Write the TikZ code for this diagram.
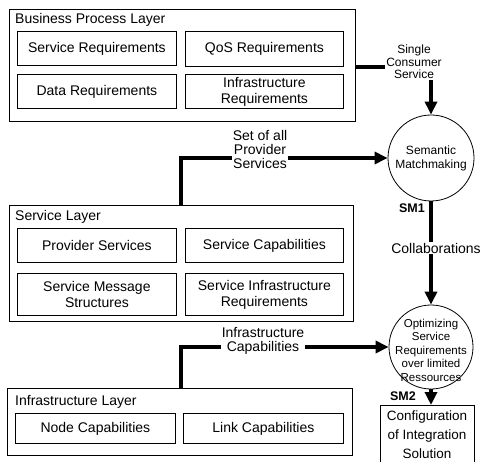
\documentclass[tikz,border=0pt]{standalone}
\usepackage{fontspec}
\setmainfont{Liberation Sans}
\usetikzlibrary{arrows.meta}
\begin{document}
\begin{tikzpicture}[x=1pt,y=-1pt,
  layerbox/.style={draw, line width=0.8pt, anchor=north west, inner sep=0pt},
  item/.style={draw, line width=0.8pt, anchor=north west, inner sep=0pt, align=center,
    font=\fontsize{14}{16}\selectfont},
  title/.style={anchor=west, inner sep=0pt, font=\fontsize{14}{16}\selectfont},
  lab/.style={fill=white, inner sep=1pt, align=center, font=\fontsize{14}{14}\selectfont},
  smalllab/.style={fill=white, inner sep=1pt, align=center, font=\fontsize{12}{12.5}\selectfont},
  circ/.style={draw, line width=0.8pt, circle, inner sep=0pt},
  sm/.style={inner sep=0pt, font=\bfseries\fontsize{12.5}{12.5}\selectfont},
  conn/.style={line width=3.8pt, -{Triangle[length=13pt,width=12pt]}}
]
\useasboundingbox (0,0) rectangle (481,462);
\clip (0,0) rectangle (481,462);

% Business Process Layer
\node[layerbox, minimum width=346pt, minimum height=112pt] (bp) at (9,9) {};
\node[title] (bpt) at (15,20) {Business Process Layer};
\node[item, minimum width=159pt, minimum height=34pt] (sr) at (17,31) {Service Requirements};
\node[item, minimum width=158pt, minimum height=35pt] (qos) at (185,31) {QoS Requirements};
\node[item, minimum width=159pt, minimum height=34pt] (dr) at (17,74) {Data Requirements};
\node[item, minimum width=158pt, minimum height=34pt] (ir) at (185,74) {Infrastructure\\Requirements};

% Service Layer
\node[layerbox, minimum width=344pt, minimum height=116pt] (sl) at (9,205) {};
\node[title] (slt) at (15,217) {Service Layer};
\node[item, minimum width=159pt, minimum height=34pt] (ps) at (17,228) {Provider Services};
\node[item, minimum width=158pt, minimum height=34pt] (sc) at (185,228) {Service Capabilities};
\node[item, minimum width=159pt, minimum height=42pt] (sms) at (17,273) {Service Message\\Structures};
\node[item, minimum width=158pt, minimum height=42pt] (sir) at (185,273) {Service Infrastructure\\Requirements};

% Infrastructure Layer
\node[layerbox, minimum width=345pt, minimum height=67pt] (il) at (7,388) {};
\node[title] (ilt) at (15,402) {Infrastructure Layer};
\node[item, minimum width=160pt, minimum height=30pt] (nc) at (15,413) {Node Capabilities};
\node[item, minimum width=160pt, minimum height=30pt] (lc) at (183,413) {Link Capabilities};

% Circles
\node[circ, minimum size=86pt] (c1) at (431,158) {};
\node[align=center, inner sep=0pt, font=\fontsize{12}{14}\selectfont] (c1t) at (c1) {Semantic\\Matchmaking};
\node[circ, minimum size=84pt] (c2) at (431,347) {};
\node[align=center, inner sep=0pt, font=\fontsize{11.5}{13.5}\selectfont] (c2t) at (431,350) {Optimizing\\Service\\Requirements\\over limited\\Ressources};

% Configuration box
\node[draw, line width=0.8pt, anchor=north west, minimum width=94pt, minimum height=62pt,
  inner sep=0pt] (cfg) at (380,405) {};
\node[align=center, inner sep=0pt, font=\fontsize{13.5}{19}\selectfont] (cfgt) at (427,435)
  {Configuration\\of Integration\\Solution};

% Connectors
\coordinate (bpo) at (355,67);
\coordinate (sx) at (181,0);
\draw[conn] (bp.east |- bpo) -| (c1.north);
\node[smalllab] (scs) at (414,62) {Single\\Consumer\\Service};

\draw[conn] (sl.north -| sx) |- (c1.west);
\node[lab] (spl) at (260,149) {Set of all\\Provider\\Services};

\draw[conn] (il.north -| sx) |- (c2.west);
\node[lab] (icl) at (263,341) {Infrastructure\\Capabilities};

\draw[conn] (c1.south) -- (c2.north);
\node[lab] (col) at (436,248) {Collaborations};
\node[sm] (sm1) at (412,208) {SM1};

\draw[conn] (c2.south) -- (c2.south |- cfg.north);
\node[sm] (sm2) at (403,396) {SM2};
\end{tikzpicture}
\end{document}
